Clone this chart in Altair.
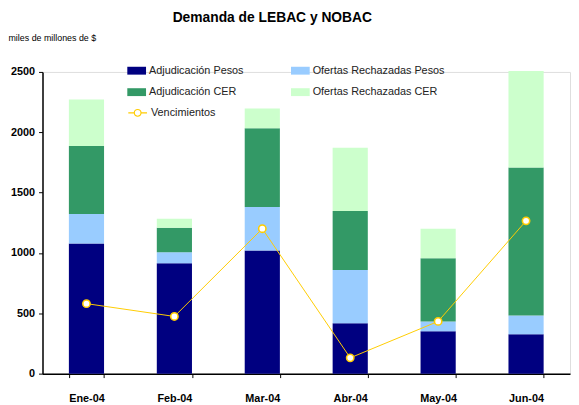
import altair as alt
import pandas as pd

meses = ["Ene-04", "Feb-04", "Mar-04", "Abr-04", "May-04", "Jun-04"]
adj_pesos = [1078, 915, 1021, 417, 351, 327]
rech_pesos = [245, 90, 360, 441, 82, 155]
adj_cer = [564, 204, 653, 490, 523, 1226]
rech_cer = [384, 74, 164, 523, 245, 800]
vencimientos = [580, 474, 1201, 131, 433, 1266]

series = ["Adjudicación Pesos", "Ofertas Rechazadas Pesos", "Adjudicación CER", "Ofertas Rechazadas CER"]
colores = ["#000080", "#99CCFF", "#339966", "#CCFFCC"]
y_ticks = [0, 500, 1000, 1500, 2000, 2500]

FONT = "Liberation Sans"

rows = []
for i, m in enumerate(meses):
    for k, (s, vals) in enumerate(zip(series, [adj_pesos, rech_pesos, adj_cer, rech_cer])):
        rows.append({"mes": m, "serie": s, "valor": vals[i], "orden": k})
bars_df = pd.DataFrame(rows)
line_df = pd.DataFrame({"mes": meses, "valor": vencimientos, "serie": ["Vencimientos"] * len(meses)})

x_enc = alt.X(
    "mes:N", sort=meses,
    scale=alt.Scale(paddingInner=0.6, paddingOuter=0.3),
    axis=alt.Axis(title=None, labelAngle=0, labelFont=FONT, labelFontWeight="bold",
                  labelFontSize=11, labelColor="black", labelPadding=15, tickBand="extent",
                  domainColor="black", domainWidth=1.5, tickColor="black", tickSize=4),
)
y_enc = alt.Y(
    "valor:Q", stack="zero",
    scale=alt.Scale(domain=[0, 2500], nice=False),
    axis=alt.Axis(title="miles de millones de $", titleAngle=0, titleX=-35, titleY=-35,
                  titleAlign="left", titleBaseline="middle", titleFont=FONT,
                  titleFontWeight="normal", titleFontSize=9, titleColor="black",
                  values=y_ticks, format="d", grid=False, labelFont=FONT, labelFontWeight="bold",
                  labelFontSize=11, labelColor="black", labelPadding=4,
                  domainColor="black", domainWidth=1.5, tickColor="black", tickSize=4),
)

rect_path = "M-1,-0.42L1,-0.42L1,0.42L-1,0.42Z"
line_path = ("M-1,0L-0.36,0M0.36,0L1,0"
             "M-0.36,0A0.36,0.36 0 1,0 0.36,0A0.36,0.36 0 1,0 -0.36,0Z")

bars = alt.Chart(bars_df).mark_bar().encode(
    x=x_enc,
    y=y_enc,
    color=alt.Color("serie:N", scale=alt.Scale(domain=series, range=colores),
                    legend=alt.Legend(title=None, orient="none", legendX=86, legendY=-11,
                                      columns=2, direction="horizontal",
                                      columnPadding=47, rowPadding=7,
                                      symbolType=rect_path, symbolSize=361, symbolStrokeWidth=0,
                                      labelFont=FONT, labelFontSize=11, labelColor="#222222",
                                      labelOffset=3, padding=0)),
    order=alt.Order("orden:Q"),
)

venc_scale = alt.Scale(domain=["Vencimientos"], range=["#FFCC00"])
venc_legend = alt.Legend(title=None, orient="none", legendX=86, legendY=31,
                         symbolType=line_path, symbolSize=361, symbolStrokeWidth=1.2,
                         symbolFillColor="white", labelFont=FONT, labelFontSize=11,
                         labelColor="#222222", labelOffset=3, padding=0)

line = alt.Chart(line_df).mark_line(strokeWidth=1).encode(
    x=x_enc,
    y=alt.Y("valor:Q", scale=alt.Scale(domain=[0, 2500], nice=False)),
    stroke=alt.Stroke("serie:N", scale=venc_scale, legend=venc_legend),
)
points = alt.Chart(line_df).mark_point(shape="circle", filled=True, fill="white", size=55,
                                        strokeWidth=1.6, opacity=1).encode(
    x=x_enc,
    y=alt.Y("valor:Q", scale=alt.Scale(domain=[0, 2500], nice=False)),
    stroke=alt.Stroke("serie:N", scale=venc_scale, legend=venc_legend),
)

chart = alt.layer(bars, line, points).properties(
    width=535, height=306,
    autosize=alt.AutoSizeParams(type="none"),
    padding={"left": 35, "top": 62, "right": 1, "bottom": 32},
    title=alt.TitleParams("Demanda de LEBAC y NOBAC", anchor="start", frame="group", dx=132,
                          dy=-5, font=FONT, fontSize=14, fontWeight="bold", color="black"),
).configure_view(stroke=None).configure(background="white")

chart.save("out.html", embed_options={"renderer": "svg", "actions": False})
